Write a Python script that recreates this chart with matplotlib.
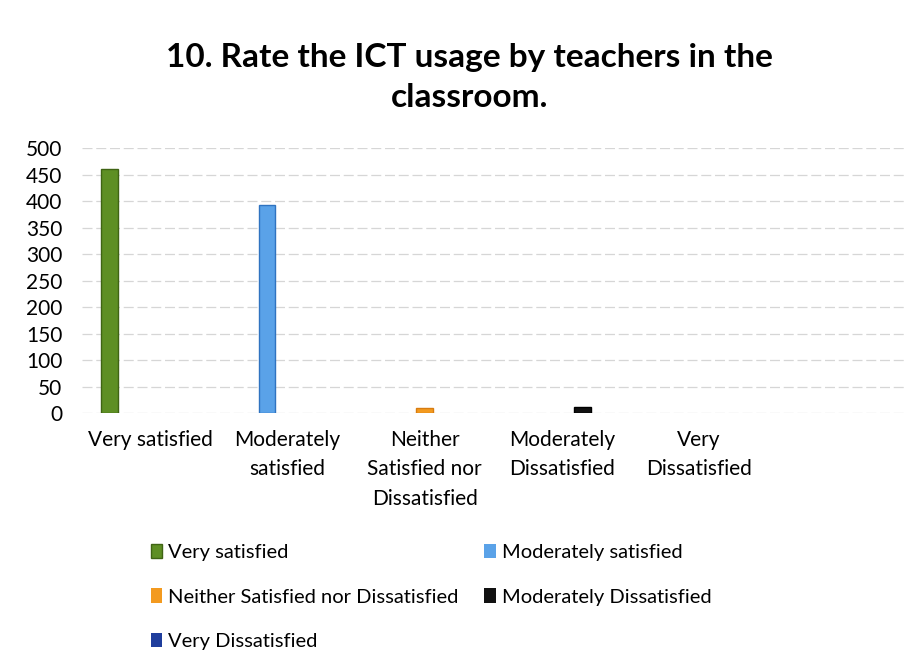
import numpy as np
from matplotlib import pyplot as plt

plt.rcParams['font.family'] = ['Lato', 'DejaVu Sans']

categories = ["Very satisfied", "Moderately\nsatisfied", "Neither\nSatisfied nor\nDissatisfied",
              "Moderately\nDissatisfied", "Very\nDissatisfied"]
series_names = ["Very satisfied", "Moderately satisfied", "Neither Satisfied nor Dissatisfied",
                "Moderately Dissatisfied", "Very Dissatisfied"]
very_satisfied = [460, 0, 0, 0, 0]
moderately_satisfied = [0, 392, 0, 0, 0]
neither = [0, 0, 10, 0, 0]
moderately_dissatisfied = [0, 0, 0, 12, 0]
very_dissatisfied = [0, 0, 0, 0, 0]
yticks = [0, 50, 100, 150, 200, 250, 300, 350, 400, 450, 500]

colors = ['#5e8f24', '#5aa2e8', '#f39a1f', '#111111', '#1f3d9c']
edges = ['#3f6414', '#2f73c0', '#d87c10', '#000000', '#132a70']

fig = plt.figure(figsize=(9.21, 6.53), dpi=100)
ax = fig.add_axes([0.089, 0.3675, 0.893, 0.4055])

x = np.arange(len(categories))
step = 0.15
width = 0.12
handles = []
for k, vals in enumerate([very_satisfied, moderately_satisfied, neither,
                          moderately_dissatisfied, very_dissatisfied]):
    b = ax.bar(x + (k - 2) * step, vals, width, color=colors[k], edgecolor=edges[k],
               linewidth=1, label=series_names[k], zorder=3)
    # hide outline of empty bars
    for p, v in zip(b.patches, vals):
        if v == 0:
            p.set_linewidth(0)
    handles.append(b)

ax.set_xlim(-0.5, len(categories) + 0.5)
ax.set_ylim(0, 500)
ax.set_yticks(yticks)
ax.set_yticklabels([str(v) for v in yticks], fontsize=15)
ax.set_xticks(x, categories, fontsize=15, linespacing=1.6, va='top')
ax.tick_params(axis='both', length=0)
ax.tick_params(axis='y', pad=14)
ax.tick_params(axis='x', pad=12)
for s in ax.spines.values():
    s.set_visible(False)
ax.yaxis.grid(True, color='#d6d6d6', linewidth=0.9, linestyle=(0, (8, 3)), zorder=0)

fig.text(0.51, 0.934, "10. Rate the ICT usage by teachers in the\nclassroom.",
         ha='center', va='top', fontsize=24, fontweight='bold', linespacing=1.45)

order = [0, 2, 4, 1, 3]
leg = fig.legend([handles[i] for i in order], [series_names[i] for i in order],
                 loc='upper left', bbox_to_anchor=(0.155, 0.18), ncol=2, frameon=False,
                 fontsize=14.5, handlelength=0.55, handleheight=0.75, handletextpad=0.3,
                 columnspacing=1.3, labelspacing=1.35, borderaxespad=0)

fig.savefig('out.png', dpi=100)
